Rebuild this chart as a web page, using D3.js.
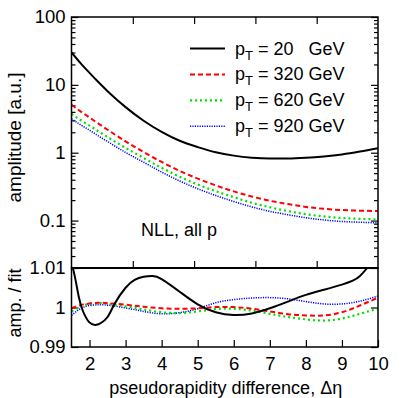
<!DOCTYPE html>
<html>
<head>
<meta charset="utf-8">
<script src="https://cdn.jsdelivr.net/npm/d3@7"></script>
<style>
  body { margin: 0; background: #fff; }
  svg { display: block; font-family: "Liberation Sans", Arial, sans-serif; }
  .tick line { stroke: #000; stroke-width: 1.2; }
  .tick text { fill: #000; font-size: 18.5px; }
</style>
</head>
<body>
<svg width="407" height="398"></svg>
<script>
// donnees
var eta = [1.5, 1.75, 2, 2.25, 2.5, 3, 3.5, 4, 4.5, 5, 5.5, 6, 6.5, 7, 7.5, 8, 8.5, 9, 9.5, 10];

var amp20  = [30, 20.9, 15.0, 10.9, 8.07, 4.70, 2.96, 2.03, 1.50, 1.21, 1.016, 0.906, 0.845, 0.822, 0.822, 0.841, 0.881, 0.944, 1.04, 1.167];
var amp320 = [5.1, 4.07, 3.3, 2.67, 2.18, 1.47, 1.02, 0.73, 0.54, 0.415, 0.33, 0.269, 0.226, 0.196, 0.175, 0.159, 0.149, 0.143, 0.14, 0.138];
var amp620 = [3.72, 3.03, 2.51, 2.06, 1.70, 1.18, 0.836, 0.599, 0.443, 0.34, 0.271, 0.221, 0.183, 0.157, 0.138, 0.124, 0.115, 0.109, 0.106, 0.104];
var amp920 = [3.16, 2.58, 2.15, 1.76, 1.46, 1.01, 0.724, 0.518, 0.383, 0.295, 0.234, 0.191, 0.159, 0.137, 0.122, 0.110, 0.102, 0.097, 0.0945, 0.0925];

// rapport amplitude / fit
var etaR20 = [1.5, 1.6, 1.7, 1.8, 1.9, 2.0, 2.15, 2.3, 2.5, 2.7, 3.0, 3.25, 3.5, 3.75, 4.0, 4.5, 5.0, 5.5, 6.0, 6.5, 7.0, 7.5, 8.0, 8.5, 9.0, 9.3, 9.5, 9.7, 9.8];
var ratio20 = [1.0115, 1.0075, 1.0028, 0.9995, 0.9975, 0.9962, 0.9956, 0.9960, 0.9976, 1.0010, 1.0050, 1.0070, 1.0078, 1.0080, 1.0072, 1.0040, 1.0008, 0.9988, 0.9981, 0.9985, 0.9998, 1.0015, 1.0032, 1.0045, 1.0058, 1.0068, 1.0080, 1.0100, 1.0113];
var etaR = [1.5, 1.75, 2, 2.25, 2.5, 3, 3.5, 4, 4.5, 5, 5.5, 6, 6.5, 7, 7.5, 8, 8.5, 9, 9.5, 10];
var ratio320 = [0.9998, 1.0006, 1.0010, 1.0012, 1.0011, 1.0007, 1.0002, 0.9998, 0.9997, 0.9998, 1.0001, 1.0001, 0.9997, 0.9990, 0.9983, 0.9980, 0.9980, 0.9988, 1.0005, 1.0025];
var ratio620 = [0.9990, 1.0003, 1.0009, 1.0011, 1.0010, 1.0003, 0.9995, 0.9988, 0.9986, 0.9990, 0.9996, 0.9997, 0.9992, 0.9984, 0.9976, 0.9970, 0.9967, 0.9972, 0.9984, 0.9997];
var ratio920 = [0.9980, 0.9997, 1.0005, 1.0007, 1.0006, 0.9999, 0.9990, 0.9984, 0.9987, 0.9997, 1.0012, 1.0020, 1.0024, 1.0025, 1.0022, 1.0015, 1.0009, 1.0009, 1.0016, 1.0029];

var legendLabels = ["20   ", "320 ", "620 ", "920 "];
var xTicks = [2, 3, 4, 5, 6, 7, 8, 9, 10];
var topMajor = [0.1, 1, 10, 100];
var ratioTicks = [0.99, 1, 1.01];

var x0 = 71.5, x1 = 378;
var yTop0 = 17, yMid = 268, yBot = 347;

var svg = d3.select("svg");

var x = d3.scaleLinear().domain([1.5, 10]).range([x0, x1]);
var xFrame = d3.scaleLinear().domain([0, 10]).range([x0, x1]); // ticks du panneau haut
var y = d3.scaleLog().domain([0.02, 100]).range([yMid, yTop0]);
var yR = d3.scaleLinear().domain([0.99, 1.01]).range([yBot, yMid]);

var series = [
  {vals: amp20,  ratio: ratio20,  ex: etaR20, color: "#000000", width: 2,   dash: null},
  {vals: amp320, ratio: ratio320, ex: etaR,   color: "#ff0000", width: 2,   dash: "5,3"},
  {vals: amp620, ratio: ratio620, ex: etaR,   color: "#00e000", width: 2.2, dash: "2,3"},
  {vals: amp920, ratio: ratio920, ex: etaR,   color: "#0000ff", width: 1.5, dash: "1.2,1.2"}
];

var defs = svg.append("defs");
defs.append("clipPath").attr("id", "clipTop").append("rect")
  .attr("x", x0).attr("y", yTop0).attr("width", x1 - x0).attr("height", yMid - yTop0);
defs.append("clipPath").attr("id", "clipBot").append("rect")
  .attr("x", x0).attr("y", yMid).attr("width", x1 - x0).attr("height", yBot - yMid);

/* axes panneau haut */
var minors = y.ticks().filter(function(d) { return topMajor.indexOf(d) < 0 && d > 0.02; });
svg.append("g").attr("transform", "translate(" + x0 + ",0)")
  .call(d3.axisLeft(y).tickValues(topMajor).tickSize(-7).tickPadding(6)
    .tickFormat(function(d) { return d3.format("~g")(d); }))
  .call(function(g) { g.select(".domain").remove(); });
svg.append("g").attr("transform", "translate(" + x0 + ",0)")
  .call(d3.axisLeft(y).tickValues(minors).tickSize(-4).tickFormat(""))
  .call(function(g) { g.select(".domain").remove(); });
svg.append("g").attr("transform", "translate(" + x1 + ",0)")
  .call(d3.axisRight(y).tickValues(topMajor).tickSize(-7).tickFormat(""))
  .call(function(g) { g.select(".domain").remove(); });
svg.append("g").attr("transform", "translate(" + x1 + ",0)")
  .call(d3.axisRight(y).tickValues(minors).tickSize(-4).tickFormat(""))
  .call(function(g) { g.select(".domain").remove(); });
svg.append("g").attr("transform", "translate(0," + yTop0 + ")")
  .call(d3.axisTop(xFrame).tickValues([2, 4, 6, 8]).tickSize(-7).tickFormat(""))
  .call(function(g) { g.select(".domain").remove(); });
svg.append("g").attr("transform", "translate(0," + yMid + ")")
  .call(d3.axisBottom(xFrame).tickValues([2, 4, 6, 8]).tickSize(-7).tickFormat(""))
  .call(function(g) { g.select(".domain").remove(); });

/* axes panneau bas */
svg.append("g").attr("transform", "translate(" + x0 + ",0)")
  .call(d3.axisLeft(yR).tickValues(ratioTicks).tickSize(-7).tickPadding(6)
    .tickFormat(function(d) { return d3.format("~g")(d); }))
  .call(function(g) { g.select(".domain").remove(); });
svg.append("g").attr("transform", "translate(" + x1 + ",0)")
  .call(d3.axisRight(yR).tickValues(ratioTicks).tickSize(-7).tickFormat(""))
  .call(function(g) { g.select(".domain").remove(); });
svg.append("g").attr("transform", "translate(0," + yBot + ")")
  .call(d3.axisBottom(x).tickValues(xTicks).tickSize(-7).tickPadding(10).tickFormat(d3.format("d")))
  .call(function(g) { g.select(".domain").remove(); });

/* courbes */
var lineTop = d3.line()
  .x(function(d, i) { return x(eta[i]); })
  .y(function(d) { return y(d); })
  .curve(d3.curveMonotoneX);

var gTop = svg.append("g").attr("clip-path", "url(#clipTop)");
var gBot = svg.append("g").attr("clip-path", "url(#clipBot)");

series.slice().reverse().forEach(function(s) {
  gTop.append("path")
    .datum(s.vals)
    .attr("fill", "none")
    .attr("stroke", s.color)
    .attr("stroke-width", s.width)
    .attr("stroke-dasharray", s.dash)
    .attr("d", lineTop);

  var lineBot = d3.line()
    .x(function(d, i) { return x(s.ex[i]); })
    .y(function(d) { return yR(d); })
    .curve(d3.curveNatural);

  gBot.append("path")
    .datum(s.ratio)
    .attr("fill", "none")
    .attr("stroke", s.color)
    .attr("stroke-width", s.width)
    .attr("stroke-dasharray", s.dash)
    .attr("d", lineBot);
});

/* cadres */
svg.append("rect").attr("x", x0).attr("y", yTop0).attr("width", x1 - x0).attr("height", yMid - yTop0)
  .attr("fill", "none").attr("stroke", "#000").attr("stroke-width", 1.5);
svg.append("rect").attr("x", x0).attr("y", yMid).attr("width", x1 - x0).attr("height", yBot - yMid)
  .attr("fill", "none").attr("stroke", "#000").attr("stroke-width", 1.5);
svg.append("line").attr("x1", x0).attr("x2", x1).attr("y1", yMid).attr("y2", yMid)
  .attr("stroke", "#000").attr("stroke-width", 2);

/* legende */
var leg = svg.selectAll("g.legende").data(series)
  .enter().append("g")
  .attr("class", "legende")
  .attr("transform", function(d, i) { return "translate(0," + (48.5 + 25.9 * i) + ")"; });
leg.append("line")
  .attr("x1", 190).attr("x2", 225).attr("y1", 0).attr("y2", 0)
  .attr("stroke", function(d) { return d.color; })
  .attr("stroke-width", function(d) { return d.width; })
  .attr("stroke-dasharray", function(d) { return d.dash; });
var lt = leg.append("text")
  .attr("x", 235).attr("y", 6)
  .attr("font-size", 18)
  .style("white-space", "pre");
lt.append("tspan").text("p");
lt.append("tspan").attr("dy", 5).attr("font-size", 13).text("T");
lt.append("tspan").attr("dy", -5).text(function(d, i) { return " = " + legendLabels[i] + "GeV"; });

svg.append("text").attr("x", 141).attr("y", 235.5).attr("font-size", 18).text("NLL, all p");

/* titres */
svg.append("text")
  .attr("transform", "translate(21,137.5) rotate(-90)")
  .attr("text-anchor", "middle").attr("font-size", 19)
  .text("amplitude [a.u.]");
svg.append("text")
  .attr("transform", "translate(21,303) rotate(-90)")
  .attr("text-anchor", "middle").attr("font-size", 18)
  .text("amp. / fit");
svg.append("text")
  .attr("x", (x0 + x1) / 2 + 1).attr("y", 394)
  .attr("text-anchor", "middle").attr("font-size", 18)
  .text("pseudorapidity difference, \u0394\u03b7");
</script>
</body>
</html>
